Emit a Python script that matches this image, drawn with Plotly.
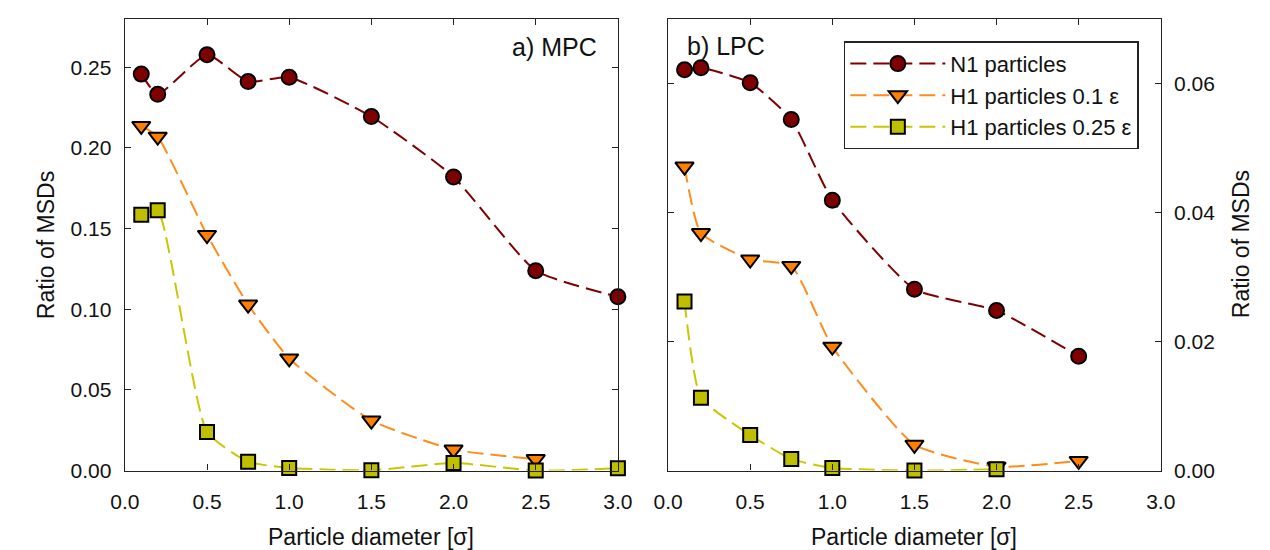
import plotly.graph_objects as go

# ---------------- data ----------------
x_mpc = [0.1, 0.2, 0.5, 0.75, 1.0, 1.5, 2.0, 2.5, 3.0]
mpc_n1 = [0.2457, 0.2332, 0.2577, 0.2411, 0.2437, 0.2194, 0.1820, 0.1239, 0.1077]
mpc_h1_01 = [0.2136, 0.2069, 0.1460, 0.1029, 0.0695, 0.0310, 0.0130, 0.0071]
mpc_h1_025 = [0.1585, 0.1613, 0.0239, 0.0055, 0.0016, 0.0002, 0.0047, 0.0000, 0.0014]

x_lpc = [0.1, 0.2, 0.5, 0.75, 1.0, 1.5, 2.0, 2.5]
lpc_n1 = [0.0621, 0.0624, 0.0601, 0.0544, 0.0419, 0.0281, 0.0248, 0.0177]
lpc_h1_01 = [0.0471, 0.0368, 0.0327, 0.0317, 0.0192, 0.0040, 0.0006, 0.0015]
lpc_h1_025 = [0.0262, 0.0113, 0.0055, 0.0018, 0.0004, 0.0000, 0.0002]

series_names = ["N1 particles", "H1 particles 0.1 ε", "H1 particles 0.25 ε"]
line_colors = ["#7f0000", "#ff8c1a", "#c8c800"]
fill_colors = ["#7f0000", "#ff7f00", "#bfbf00"]
symbols = ["circle", "triangle-down", "square"]
sizes = [15, 16, 14]

x_ticks = [0.0, 0.5, 1.0, 1.5, 2.0, 2.5, 3.0]
y_ticks_mpc = [0.00, 0.05, 0.10, 0.15, 0.20, 0.25]
y_ticks_lpc = [0.00, 0.02, 0.04, 0.06]

FONT = "Liberation Sans, Arial, sans-serif"
W, H = 1270, 550

fig = go.Figure()

def add_series(xs, ys, i, xa, ya, show):
    fig.add_trace(go.Scatter(
        x=xs[:len(ys)], y=ys, name=series_names[i], mode="lines+markers",
        xaxis=xa, yaxis=ya, showlegend=show, cliponaxis=False,
        line=dict(color=line_colors[i], width=2, dash="16px,7px", shape="spline", smoothing=0.5),
        marker=dict(symbol=symbols[i], size=sizes[i], color=fill_colors[i],
                    line=dict(color="black", width=2)),
    ))

for i, ys in enumerate([mpc_n1, mpc_h1_01, mpc_h1_025]):
    add_series(x_mpc, ys, i, "x", "y", False)
for i, ys in enumerate([lpc_n1, lpc_h1_01, lpc_h1_025]):
    add_series(x_lpc, ys, i, "x2", "y2", True)

axis_common = dict(showline=True, mirror="ticks", linecolor="#222", linewidth=1.3,
                   ticks="inside", ticklen=6, tickwidth=1.2, tickcolor="#222",
                   showgrid=False, zeroline=False,
                   tickfont=dict(family=FONT, size=21, color="#111"))

y0 = 1 - 472 / H
y1 = 1 - 11 / H
fig.update_layout(
    width=W, height=H, margin=dict(l=0, r=0, t=0, b=0),
    paper_bgcolor="white", plot_bgcolor="white",
    font=dict(family=FONT, size=21, color="#111"),
    xaxis=dict(domain=[104.3 / W, 609.3 / W], range=[0, 3], tickvals=x_ticks,
               ticktext=[f"{v:.1f}" for v in x_ticks], anchor="y", ticklabelstandoff=12, **axis_common),
    yaxis=dict(domain=[y0, y1], range=[0, 0.28], tickvals=y_ticks_mpc,
               ticktext=[f"{v:.2f}" for v in y_ticks_mpc], anchor="x", ticklabelstandoff=8, **axis_common),
    xaxis2=dict(domain=[660.7 / W, 1165.3 / W], range=[0, 3], tickvals=x_ticks,
                ticktext=[f"{v:.1f}" for v in x_ticks], anchor="y2", ticklabelstandoff=12, **axis_common),
    yaxis2=dict(domain=[y0, y1], range=[0, 0.07], tickvals=y_ticks_lpc,
                ticktext=[f"{v:.2f}" for v in y_ticks_lpc], anchor="x2", side="right",
                ticklabelstandoff=8, **axis_common),
    legend=dict(x=840.7 / W, y=1 - 34 / H, xanchor="left", yanchor="top",
                bgcolor="white", bordercolor="#222", borderwidth=1.5,
                font=dict(family=FONT, size=22, color="#111"),
                itemwidth=95, tracegroupgap=0),
)

ann = [
    dict(text="Ratio of MSDs", x=23 / W, y=1 - 241.5 / H, textangle=-90, size=23),
    dict(text="Ratio of MSDs", x=1247 / W, y=1 - 241.5 / H, textangle=-90, size=23),
    dict(text="Particle diameter [σ]", x=356.8 / W, y=1 - 540 / H, textangle=0, size=23),
    dict(text="Particle diameter [σ]", x=913 / W, y=1 - 540 / H, textangle=0, size=23),
]
for a in ann:
    fig.add_annotation(text=a["text"], xref="paper", yref="paper", x=a["x"], y=a["y"],
                       xanchor="center", yanchor="middle", textangle=a["textangle"],
                       showarrow=False, font=dict(family=FONT, size=a["size"], color="#111"))

fig.add_annotation(text="a) MPC", xref="paper", yref="paper", x=590 / W, y=1 - 40 / H,
                   xanchor="right", yanchor="middle", showarrow=False,
                   font=dict(family=FONT, size=25, color="#111"))
fig.add_annotation(text="b) LPC", xref="paper", yref="paper", x=678 / W, y=1 - 39 / H,
                   xanchor="left", yanchor="middle", showarrow=False,
                   font=dict(family=FONT, size=25, color="#111"))

fig.write_html("out.html")
